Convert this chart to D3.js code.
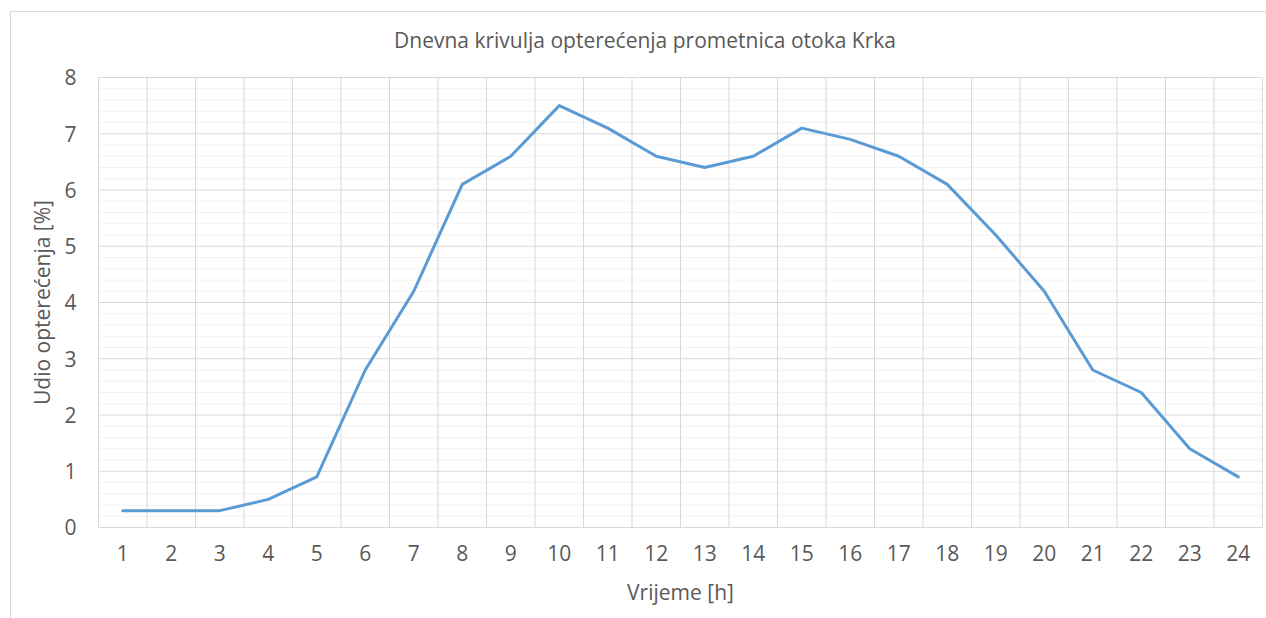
<!DOCTYPE html>
<html>
<head>
<meta charset="utf-8">
<script src="https://cdn.jsdelivr.net/npm/d3@7"></script>
<style>
  html, body { margin: 0; padding: 0; background: #fff; }
  svg { display: block; }
  text { font-family: "Open Sans", "Noto Sans", sans-serif; fill: #595959; }
</style>
</head>
<body>
<svg id="chart" width="1266" height="618"></svg>
<script>
// Hours of the day and share of daily traffic load (%)
const hours = [1, 2, 3, 4, 5, 6, 7, 8, 9, 10, 11, 12, 13, 14, 15, 16, 17, 18, 19, 20, 21, 22, 23, 24];
const loadShare = [0.3, 0.3, 0.3, 0.5, 0.9, 2.8, 4.2, 6.1, 6.6, 7.5, 7.1, 6.6, 6.4, 6.6, 7.1, 6.9, 6.6, 6.1, 5.2, 4.2, 2.8, 2.4, 1.4, 0.9];
const yTicks = [0, 1, 2, 3, 4, 5, 6, 7, 8];
const yMinorTicks = d3.range(0, 8.0001, 0.2).map(v => +v.toFixed(1));

const chartTitle = "Dnevna krivulja opterećenja prometnica otoka Krka";
const xTitle = "Vrijeme [h]";
const yTitle = "Udio opterećenja [%]";

const svg = d3.select("#chart");
const plot = { left: 98.5, top: 77.5, right: 1262.5, bottom: 527.5 };

// Outer chart frame
svg.append("rect")
  .attr("x", 10.5).attr("y", 11.5)
  .attr("width", 1270).attr("height", 620)
  .attr("fill", "none").attr("stroke", "#d9d9d9").attr("stroke-width", 1);

const x = d3.scaleBand().domain(hours).range([plot.left, plot.right]).padding(0);
const y = d3.scaleLinear().domain([0, 8]).range([plot.bottom, plot.top]);

// Minor horizontal gridlines
svg.append("g")
  .selectAll("line")
  .data(yMinorTicks.filter(v => !yTicks.includes(v)))
  .join("line")
  .attr("x1", plot.left).attr("x2", plot.right)
  .attr("y1", d => y(d)).attr("y2", d => y(d))
  .attr("stroke", "#f2f2f2").attr("stroke-width", 1);

// Major horizontal gridlines
svg.append("g")
  .selectAll("line")
  .data(yTicks)
  .join("line")
  .attr("x1", plot.left).attr("x2", plot.right)
  .attr("y1", d => y(d)).attr("y2", d => y(d))
  .attr("stroke", "#d9d9d9").attr("stroke-width", 1);

// Vertical gridlines at category boundaries
const boundaries = hours.map(h => x(h)).concat([plot.right]);
svg.append("g")
  .selectAll("line")
  .data(boundaries)
  .join("line")
  .attr("x1", d => d).attr("x2", d => d)
  .attr("y1", plot.top).attr("y2", plot.bottom)
  .attr("stroke", "#d9d9d9").attr("stroke-width", 1);

// Y axis labels
const yAxis = d3.axisLeft(y).tickValues(yTicks).tickSize(0).tickPadding(22);
svg.append("g")
  .attr("transform", `translate(${plot.left},0)`)
  .call(yAxis)
  .call(g => g.select(".domain").remove())
  .selectAll("text")
  .style("font-size", "21px")
  .attr("fill", "#595959")
  .attr("dy", "0.35em");

// X axis labels
const xAxis = d3.axisBottom(x).tickSize(0).tickPadding(19);
svg.append("g")
  .attr("transform", `translate(0,${plot.bottom})`)
  .call(xAxis)
  .call(g => g.select(".domain").remove())
  .selectAll("text")
  .style("font-size", "21px")
  .attr("fill", "#595959");

// Load curve
const line = d3.line()
  .x((d, i) => x(hours[i]) + x.bandwidth() / 2)
  .y(d => y(d));

svg.append("path")
  .datum(loadShare)
  .attr("d", line)
  .attr("fill", "none")
  .attr("stroke", "#5b9bd5")
  .attr("stroke-width", 3)
  .attr("stroke-linejoin", "round")
  .attr("stroke-linecap", "round");

// Titles
svg.append("text")
  .attr("x", 645).attr("y", 48)
  .attr("text-anchor", "middle")
  .style("font-size", "21px")
  .text(chartTitle);

svg.append("text")
  .attr("x", (plot.left + plot.right) / 2).attr("y", 600)
  .attr("text-anchor", "middle")
  .style("font-size", "21px")
  .text(xTitle);

svg.append("text")
  .attr("transform", `translate(50,${(plot.top + plot.bottom) / 2}) rotate(-90)`)
  .attr("text-anchor", "middle")
  .style("font-size", "21px")
  .text(yTitle);
</script>
</body>
</html>
